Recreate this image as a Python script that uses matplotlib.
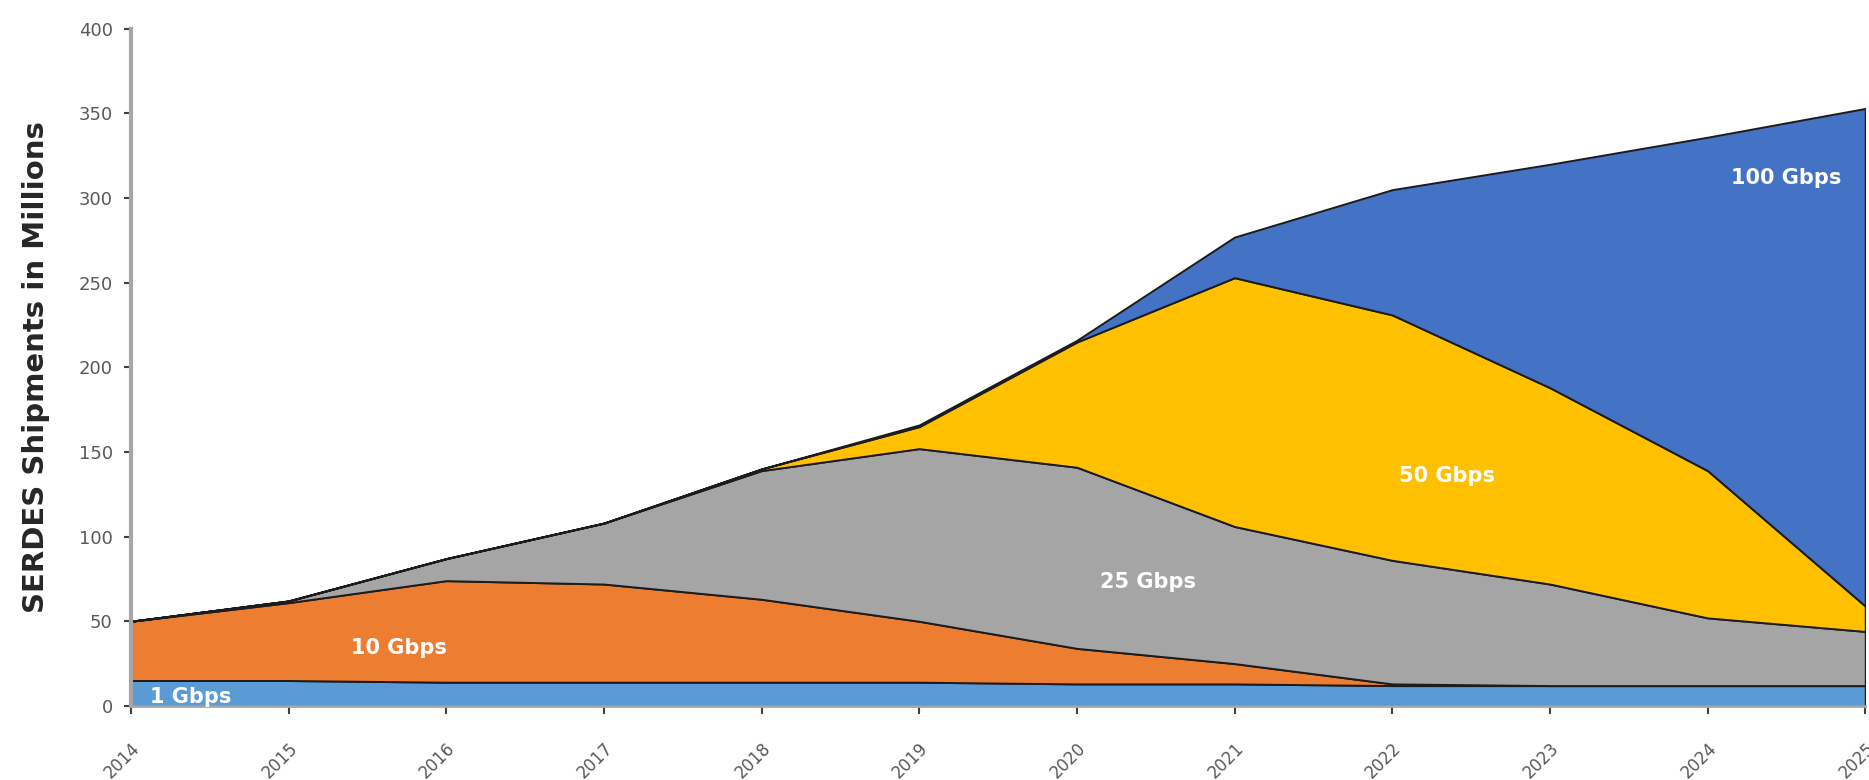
import matplotlib
matplotlib.use("Agg")
import matplotlib.pyplot as plt
import numpy as np

# SERDES shipments (millions) by lane speed
years = [2014, 2015, 2016, 2017, 2018, 2019, 2020, 2021, 2022, 2023, 2024, 2025]
gbps_1 = [15, 15, 14, 14, 14, 14, 13, 13, 12, 12, 12, 12]
gbps_10 = [35, 46, 60, 58, 49, 36, 21, 12, 1, 0, 0, 0]
gbps_25 = [0, 1, 13, 36, 76, 102, 107, 81, 73, 60, 40, 32]
gbps_50 = [0, 0, 0, 0, 1, 13, 74, 147, 145, 116, 87, 15]
gbps_100 = [0, 0, 0, 0, 0, 1, 1, 24, 74, 132, 197, 294]

series_names = ["1 Gbps", "10 Gbps", "25 Gbps", "50 Gbps", "100 Gbps"]
colors = ["#5b9bd5", "#ed7d31", "#a5a5a5", "#ffc000", "#4472c4"]

# label positions (x in years, y in millions)
label_x = [2014.12, 2015.7, 2020.45, 2022.35, 2024.5]
label_y = [5, 34, 73, 136, 312]
label_ha = ["left", "center", "center", "center", "center"]

fig = plt.figure(figsize=(18.69, 7.80), dpi=100)
ax = fig.add_axes([0.070, 0.095, 0.928, 0.868])

ax.stackplot(years, gbps_1, gbps_10, gbps_25, gbps_50, gbps_100,
             colors=colors, edgecolor="#1c1c1c", linewidth=1.4)

for name, x, y, ha in zip(series_names, label_x, label_y, label_ha):
    ax.text(x, y, name, color="white", fontsize=15, fontweight="bold",
            ha=ha, va="center")

ax.set_xlim(2014, 2025)
ax.set_ylim(0, 400)
ax.set_yticks(np.arange(0, 401, 50))
ax.set_xticks(years)
ax.set_xticklabels([str(y) for y in years], rotation=45, ha="right",
                   rotation_mode="anchor", fontsize=12, color="#595959")
ax.tick_params(axis="y", labelsize=13, labelcolor="#595959", direction="out",
               length=5, width=1.5, color="#404040", pad=8)
ax.tick_params(axis="x", direction="out", length=6, width=1.5,
               color="#404040", pad=18)

for side in ["top", "right"]:
    ax.spines[side].set_visible(False)
ax.spines["left"].set_color("#a6a6a6")
ax.spines["left"].set_linewidth(3)
ax.spines["bottom"].set_color("#a6a6a6")
ax.spines["bottom"].set_linewidth(2)

fig.text(0.019, 0.53, "SERDES Shipments in Millions", rotation=90,
         fontsize=21, fontweight="bold", color="#262626",
         ha="center", va="center")

fig.savefig("out.png", dpi=100)
